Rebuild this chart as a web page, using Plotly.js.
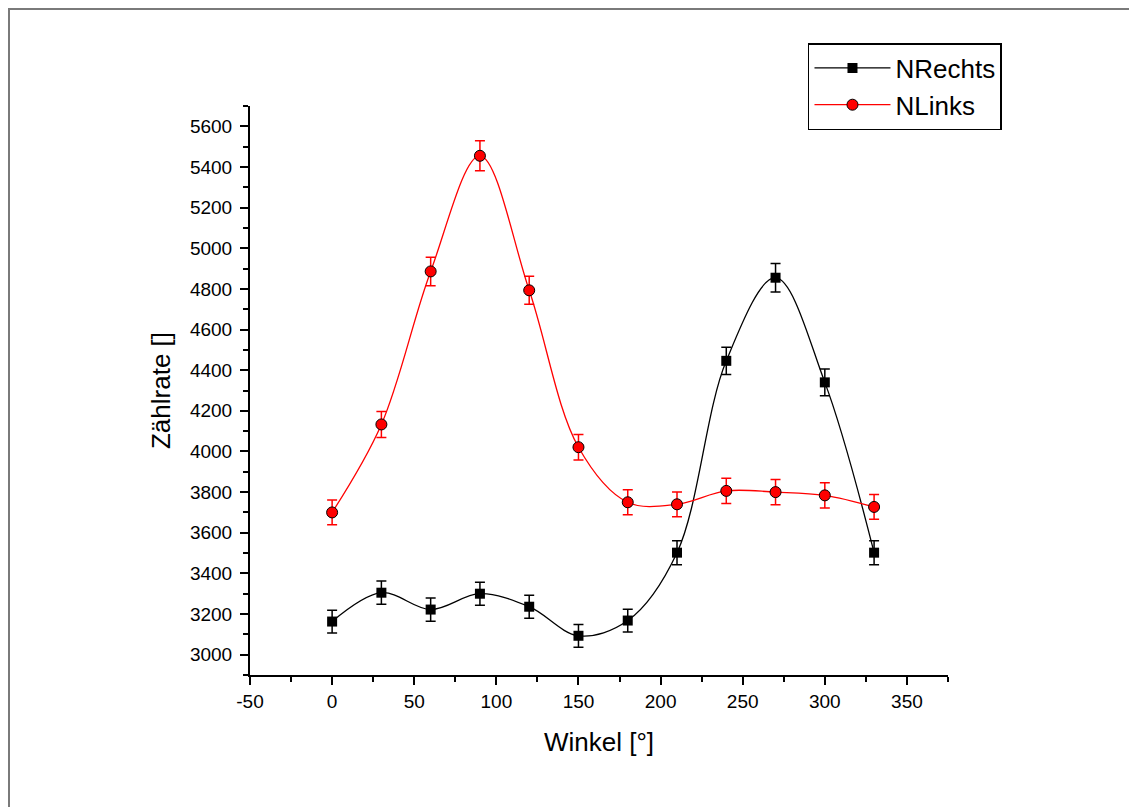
<!DOCTYPE html>
<html>
<head>
<meta charset="utf-8">
<script src="https://cdn.plot.ly/plotly-3.0.1.min.js"></script>
<style>
  html, body { margin: 0; padding: 0; background: #fff; }
  #wrap { position: relative; width: 1129px; height: 807px; overflow: hidden; }
  #frame { position: absolute; left: 8px; top: 8px; width: 1200px; height: 900px;
           border-left: 2px solid #7a7a7a; border-top: 2px solid #7a7a7a; pointer-events: none; }
  #chart { position: absolute; left: 0; top: 0; width: 1129px; height: 807px; }
</style>
</head>
<body>
<div id="wrap">
  <div id="chart"></div>
  <div id="frame"></div>
</div>
<script>
const winkel = [0, 30, 60, 90, 120, 150, 180, 210, 240, 270, 300, 330];
const nRechts = [3163, 3305, 3222, 3300, 3236, 3093, 3168, 3502, 4446, 4855, 4340, 3502];
const nRechtsErr = [56, 57, 57, 57, 57, 56, 56, 59, 67, 70, 66, 59];
const nLinks = [3700, 4133, 4886, 5455, 4793, 4021, 3750, 3740, 3806, 3800, 3784, 3727];
const nLinksErr = [61, 64, 70, 74, 69, 63, 61, 61, 62, 62, 62, 61];
const nameRechts = "NRechts";
const nameLinks = "NLinks";
const xTickVals = [-50, 0, 50, 100, 150, 200, 250, 300, 350];
const xTickText = ["-50", "0", "50", "100", "150", "200", "250", "300", "350"];

const traces = [
  {
    x: winkel, y: nRechts, name: nameRechts, type: "scatter", mode: "lines+markers",
    line: { color: "#000000", width: 1.3, shape: "spline", smoothing: 1 },
    marker: { symbol: "square", size: 10, color: "#000000" },
    error_y: { type: "data", array: nRechtsErr, visible: true, color: "#000000", thickness: 1.5, width: 5 }
  },
  {
    x: winkel, y: nLinks, name: nameLinks, type: "scatter", mode: "lines+markers",
    line: { color: "#ff0000", width: 1.3, shape: "spline", smoothing: 1 },
    marker: { symbol: "circle", size: 11, color: "#ff0000", line: { color: "#000000", width: 1 } },
    error_y: { type: "data", array: nLinksErr, visible: true, color: "#ff0000", thickness: 1.5, width: 5 }
  }
];

const fontFam = "Liberation Sans, Arial, sans-serif";
const layout = {
  width: 1129, height: 807,
  margin: { l: 250, r: 181, t: 106, b: 132, pad: 0 },
  paper_bgcolor: "#ffffff", plot_bgcolor: "#ffffff",
  font: { family: fontFam, color: "#000000", size: 19 },
  showlegend: true,
  legend: {
    x: 0.7994, y: 1.1107, xanchor: "left", yanchor: "top",
    bgcolor: "#ffffff", bordercolor: "#000000", borderwidth: 1.5,
    font: { family: fontFam, size: 26, color: "#000000" },
    itemwidth: 76, tracegroupgap: 0
  },
  xaxis: {
    range: [-50, 375], tickmode: "array", tickvals: xTickVals, ticktext: xTickText,
    showgrid: false, zeroline: false, showline: true, linecolor: "#000000", linewidth: 2,
    ticks: "outside", ticklen: 8, tickwidth: 2, tickcolor: "#000000",
    minor: { dtick: 25, tick0: -50, ticks: "outside", ticklen: 5, tickwidth: 2, tickcolor: "#000000", showgrid: false },
    tickfont: { family: fontFam, size: 19 },
    title: { text: "Winkel [°]", font: { family: fontFam, size: 26 }, standoff: 22 },
    mirror: false
  },
  yaxis: {
    range: [2900, 5700], dtick: 200, tick0: 3000,
    showgrid: false, zeroline: false, showline: true, linecolor: "#000000", linewidth: 2,
    ticks: "outside", ticklen: 8, tickwidth: 2, tickcolor: "#000000",
    minor: { dtick: 100, ticks: "outside", ticklen: 5, tickwidth: 2, tickcolor: "#000000", showgrid: false },
    tickfont: { family: fontFam, size: 19 },
    ticklabelstandoff: 4,
    title: { text: "Zählrate []", font: { family: fontFam, size: 26 }, standoff: 12 },
    mirror: false
  }
};

Plotly.newPlot("chart", traces, layout, { staticPlot: true, displayModeBar: false });
</script>
</body>
</html>
